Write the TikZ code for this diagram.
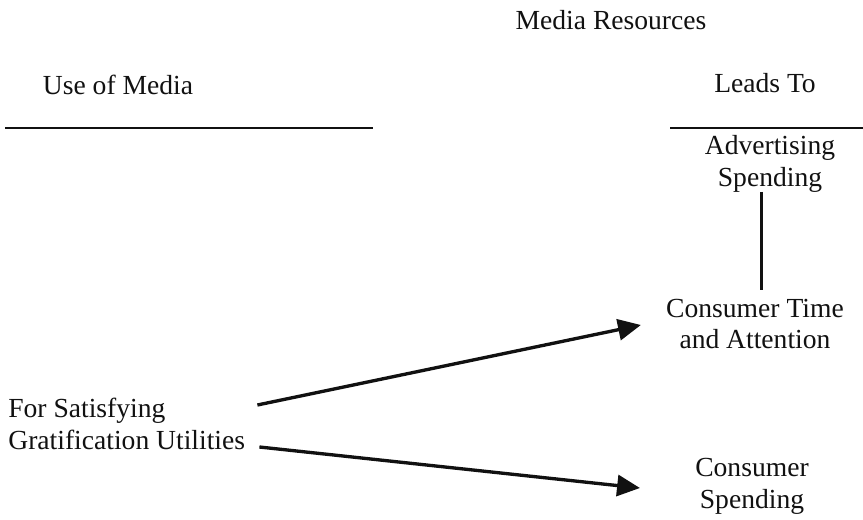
\documentclass[tikz,border=0pt]{standalone}
\usepackage{fontspec}
\setmainfont{Liberation Serif}
\usepackage{xcolor}
\usetikzlibrary{calc,arrows.meta}
\definecolor{ink}{HTML}{111111}
\tikzset{
  rule/.style={draw=ink, line width=1pt},
  vline/.style={draw=ink, line width=1.8pt},
  arr/.style={draw=ink, line width=1.9pt, -{Triangle[length=13pt,width=12pt]}},
  lbl/.style={text=ink, font=\fontsize{15.7}{18.2}\selectfont, align=center, inner sep=0pt},
  llbl/.style={lbl, align=left}
}
\begin{document}
\begin{tikzpicture}[x=0.02cm,y=-0.02cm]
  \useasboundingbox (0,0) rectangle (863,520);

  \node[lbl] (MR) at (611,20) {Media Resources};
  \node[lbl] (UM) at (118,85) {Use of Media};
  \node[lbl] (LT) at (765,83) {Leads To};

  \draw[rule] (5,128) -- (373,128);
  \draw[rule] (670,128) -- (863,128);

  \node[lbl] (AS) at (770,164) {Advertising\\Spending};
  \node[lbl] (CT) at (755,324) {Consumer Time\\and Attention};
  \node[lbl] (CS) at (752,486) {Consumer\\Spending};
  \node[llbl, anchor=west] (GU) at (8,424) {For Satisfying\\Gratification Utilities};

  \coordinate (G1) at ($(GU.east)+(12,-19)$);
  \coordinate (G2) at ($(GU.east)+(14,23)$);

  \draw[vline] ([xshift=-5]AS.south |- 0,192) -- ([xshift=-5]AS.south |- 0,290);
  \draw[arr] (G1) -- ($(CT.west)+(-25,1)$);
  \draw[arr] (G2) -- ($(CS.west)+(-55,2)$);
\end{tikzpicture}
\end{document}
